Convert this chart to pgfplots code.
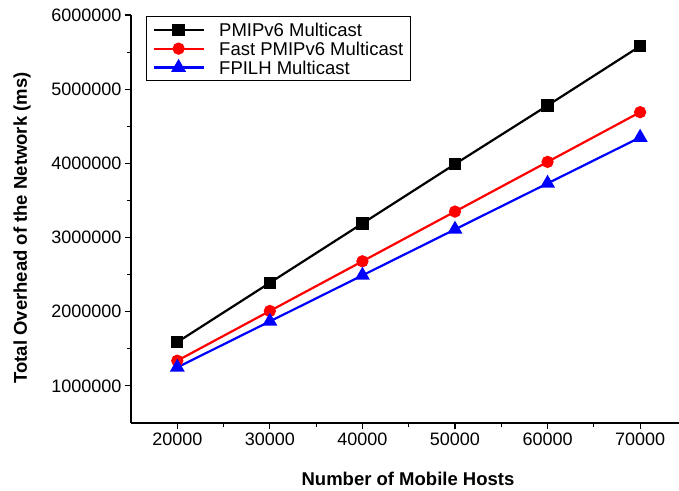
\documentclass[border=0pt]{standalone}
\usepackage{pgfplots}
\pgfplotsset{compat=1.18}
\usepackage{fontspec}
\setmainfont{Liberation Sans}
\begin{document}
\begin{tikzpicture}
\begin{axis}[
    at={(0,0)}, anchor=south west,
    scale only axis,
    width=548pt, height=408pt,
    xmin=15000, xmax=74200,
    ymin=500000, ymax=6000000,
    axis x line=bottom, axis y line=left,
    axis line style={-, line width=1.1pt},
    xtick={20000,30000,...,70000},
    ytick={1000000,2000000,...,6000000},
    minor x tick num=1, minor y tick num=1,
    tick align=outside,
    major tick length=6pt, minor tick length=4pt,
    tick style={line width=1.1pt, black},
    scaled ticks=false,
    /pgf/number format/assume math mode=true,
    /pgf/number format/.cd, fixed, set thousands separator={}, precision=0,
    /pgfplots/.cd,
    tick label style={font=\fontsize{18}{20}\selectfont},
    every axis y label/.style={at={(rel axis cs:0,0.5)}, xshift=-109pt, yshift=-9pt, rotate=90, anchor=center},
    every axis x label/.style={at={(rel axis cs:0.5,0)}, anchor=base, yshift=-62pt, xshift=3pt},
    label style={font=\bfseries\fontsize{18.5}{20}\selectfont},
    xlabel={Number of Mobile Hosts},
    ylabel={Total Overhead of the Network (ms)},
    legend style={at={(rel axis cs:0,1)}, anchor=north west, xshift=15pt, yshift=-1pt,
        draw=black, line width=1pt, font=\fontsize{18.5}{20}\selectfont,
        inner xsep=6pt, inner ysep=4.3pt, row sep=1pt, column sep=13.5pt,
        nodes={inner sep=1pt}, cells={anchor=west},
        /tikz/every even column/.append style={text height=14.4pt, text depth=0pt}},
    legend image code/.code={\draw[mark repeat=2, mark phase=2] plot coordinates {(0pt,0pt) (25pt,0pt) (50pt,0pt)};},
    every axis plot/.append style={line width=2.2pt},
]
\addplot[black, mark=square*, mark size=5pt, mark options={solid}] coordinates {
(20000,1590000) (30000,2390000) (40000,3190000) (50000,3990000) (60000,4780000) (70000,5580000)};
\addplot[red, mark=*, mark size=5pt] coordinates {
(20000,1340000) (30000,2010000) (40000,2680000) (50000,3350000) (60000,4020000) (70000,4690000)};
\addplot[blue, mark=triangle*, mark size=6.5pt] coordinates {
(20000,1250000) (30000,1870000) (40000,2490000) (50000,3110000) (60000,3730000) (70000,4350000)};
\legend{PMIPv6 Multicast, Fast PMIPv6 Multicast, FPILH Multicast}
\end{axis}
\pgfresetboundingbox
\useasboundingbox (-131pt,-67pt) rectangle (548pt,423pt);
\end{tikzpicture}
\end{document}
